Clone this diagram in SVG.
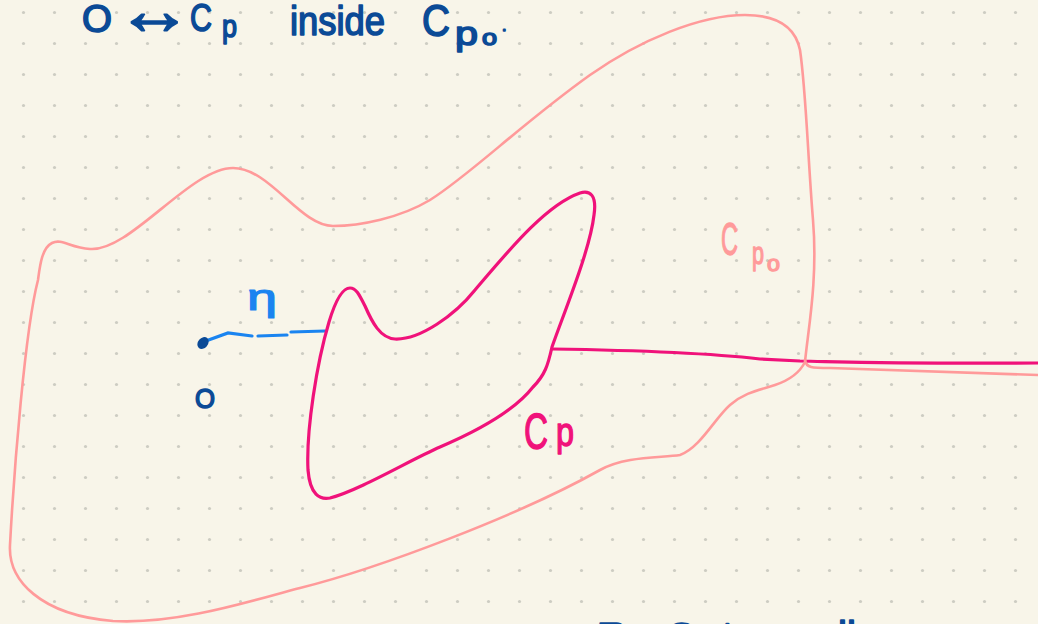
<svg xmlns="http://www.w3.org/2000/svg" width="1038" height="624" viewBox="0 0 1038 624">
<defs>
<pattern id="grid" x="8" y="-3" width="31" height="31" patternUnits="userSpaceOnUse">
<circle cx="15.5" cy="15.5" r="1.6" fill="#cdccc2"/>
</pattern>
<style>
.ink{font-family:"Liberation Sans","DejaVu Sans",sans-serif;fill:#0b4a96;stroke:#0b4a96;stroke-width:1.6;stroke-linejoin:round}
.mag{font-family:"Liberation Sans",sans-serif;fill:#f0127a;stroke:#f0127a;stroke-width:1.4;stroke-linejoin:round}
.sal{font-family:"Liberation Sans",sans-serif;fill:#ff9a9a;stroke:#ff9a9a;stroke-width:1.3;stroke-linejoin:round}
.blu{font-family:"Liberation Sans",sans-serif;fill:#1a84f0;stroke:#1a84f0;stroke-width:1.2;stroke-linejoin:round}
.outer{fill:none;stroke:#ff9a9a;stroke-width:2.6;stroke-linecap:round;stroke-linejoin:round}
.inner{fill:none;stroke:#f0127a;stroke-width:3.2;stroke-linecap:round;stroke-linejoin:round}
.path{fill:none;stroke:#1a84f0;stroke-width:3.2;stroke-linecap:round}
</style>
</defs>
<rect width="1038" height="624" fill="#f8f5e9"/>
<rect width="1038" height="624" fill="url(#grid)"/>

<g id="title">
<text class="ink" x="82" y="32" font-size="38" textLength="30" lengthAdjust="spacingAndGlyphs">O</text>
<text class="ink" x="0" y="0" font-size="70" stroke-width="1" transform="translate(116 34) scale(1.1 1)">↔</text>
<text class="ink" x="190" y="31" font-size="38" textLength="22" lengthAdjust="spacingAndGlyphs">C</text>
<text class="ink" x="222" y="37" font-size="32" textLength="15" lengthAdjust="spacingAndGlyphs">p</text>
<text class="ink" x="290" y="35" font-size="40" textLength="95" lengthAdjust="spacingAndGlyphs">inside</text>
<text class="ink" x="422" y="36" font-size="44" textLength="28" lengthAdjust="spacingAndGlyphs">C</text>
<text class="ink" x="455" y="45" font-size="34" textLength="23" lengthAdjust="spacingAndGlyphs">p</text>
<text class="ink" x="482" y="45" font-size="22" textLength="15" lengthAdjust="spacingAndGlyphs">o</text>
<text class="ink" x="502" y="31" font-size="16">.</text>
</g>

<g id="bottom-text">
<text class="ink" x="596" y="645" font-size="40">⊃</text>
<text class="ink" x="668" y="651" font-size="40">S</text>
<text class="ink" x="722" y="650" font-size="40">t</text>
<text class="ink" x="838" y="650" font-size="40">ll</text>
</g>

<g id="connectors">
<path id="cp-ray" class="inner" d="M552 349 C620 350 700 352 760 359 L800 361 C850 362 900 364 1038 363"/>
<path id="cpo-ray" class="outer" d="M805 360 C806 368 812 368 830 368 L1038 375"/>
<g id="path-eta">
<path class="path" d="M203 342 L228 333 L252 336"/>
<path class="path" d="M258 336 L287 335"/>
<path class="path" d="M291 332 L325 331"/>
</g>
</g>

<g id="node-Cpo">
<path class="outer" d="M805 362 C808 330 818 280 813 220 C808 160 806 90 800 50 C795 25 775 15 745 15 C700 15 640 40 590 75 C520 125 470 175 430 200 C400 218 360 226 333 226 C300 226 270 168 233 168 C190 168 130 252 90 249 C70 248 62 238 52 243 C42 248 40 265 38 280 C25 330 14 470 10 545 C8 580 40 615 113 621 C180 625 260 598 300 588 C380 568 520 515 600 470 C625 456 660 458 680 455 C700 448 715 418 730 405 C745 392 760 390 775 385 C790 380 800 372 805 362"/>
<text class="sal" x="721" y="255" font-size="46" textLength="17" lengthAdjust="spacingAndGlyphs">C</text>
<text class="sal" x="752" y="264" font-size="32" textLength="12" lengthAdjust="spacingAndGlyphs">p</text>
<text class="sal" x="767" y="271" font-size="22" textLength="13" lengthAdjust="spacingAndGlyphs">o</text>
</g>

<g id="node-Cp">
<path class="inner" d="M552 347 C565 310 590 250 594 215 C597 195 590 190 580 193 C545 205 505 255 475 290 C455 315 420 340 395 339 C380 338 372 322 365 306 C359 294 356 288 350 288 C342 288 335 302 329 322 C317 362 306 430 308 470 C310 495 320 500 330 498 C360 490 410 460 440 447 C480 430 515 410 533 387 C545 375 548 365 552 347"/>
<text class="mag" x="524" y="449" font-size="50" textLength="24" lengthAdjust="spacingAndGlyphs">C</text>
<text class="mag" x="556" y="446" font-size="40" textLength="18" lengthAdjust="spacingAndGlyphs">p</text>
</g>

<g id="node-O">
<ellipse cx="203" cy="343" rx="5" ry="6.5" fill="#0b4a96" transform="rotate(40 203 343)"/>
<text class="ink" x="195" y="408" font-size="28" textLength="20" lengthAdjust="spacingAndGlyphs">O</text>
</g>

<g id="label-eta">
<text class="blu" x="247" y="310" font-size="36" textLength="30" lengthAdjust="spacingAndGlyphs">η</text>
</g>
</svg>
